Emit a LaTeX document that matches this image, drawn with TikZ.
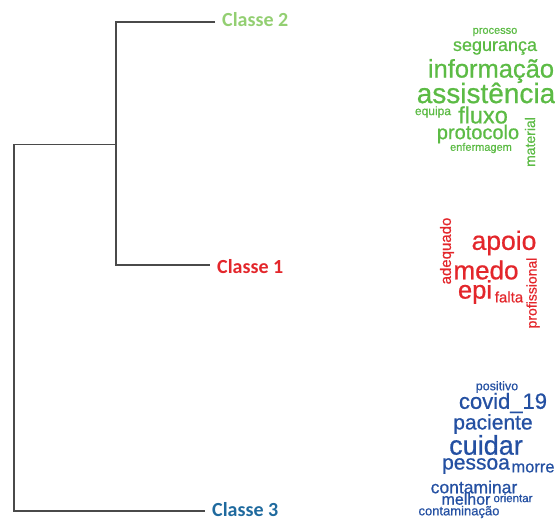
\documentclass[tikz,border=0pt]{standalone}
\usepackage{fontspec}
\setmainfont{Liberation Sans}
\newfontfamily\cloudfont[FakeBold=0.7]{Liberation Sans}
\newfontfamily\classefont{Carlito}
\definecolor{treegray}{HTML}{4A4A4A}
\definecolor{wgreen}{HTML}{5CBB45}
\definecolor{lgreen}{HTML}{93CF72}
\definecolor{wred}{HTML}{E3262B}
\definecolor{wblue}{HTML}{2450A2}
\definecolor{lblue}{HTML}{1F6A9E}
\newcommand{\wsize}[1]{\cloudfont\fontsize{#1}{#1}\selectfont}
\tikzset{
  tree/.style={draw=treegray, line width=1.2pt},
  classe/.style={font=\classefont\bfseries\fontsize{20}{20}\selectfont, anchor=west, inner sep=0pt},
  word/.style={inner sep=0pt},
}
\begin{document}
\begin{tikzpicture}[x=1pt,y=-1pt]
    \useasboundingbox (0,0) rectangle (555,520);

    % dendrogram
    \coordinate (t2) at (116,22);
    \coordinate (e2) at (215,22);
    \coordinate (t1) at (116,265);
    \coordinate (e1) at (210,265);
    \coordinate (m)  at (116,144.5);
    \coordinate (r)  at (14,144.5);
    \coordinate (t3) at (14,511);
    \coordinate (e3) at (205,511);
        \draw[tree] (e2) -- (t2) -- (t1) -- (e1);
        \draw[tree] (m) -- (r) -- (t3) -- (e3);

    \node[classe, text=lgreen] (classe2) at (222,19.5) {Classe 2};
    \node[classe, text=wred]   (classe1) at (217,267)  {Classe 1};
    \node[classe, text=lblue]  (classe3) at (212,509.5){Classe 3};

    % classe 2
    \begin{scope}[every node/.style={word, text=wgreen}]
        \node[font=\wsize{11}] (processo)     at (495,32)  {processo};
        \node[font=\wsize{18}] (seguranca)    at (495,48)  {segurança};
        \node[font=\wsize{25.5}] (informacao) at (491,71)  {informação};
        \node[font=\wsize{28}] (assistencia)  at (486,93)  {assistência};
        \node[font=\wsize{12}] (equipa)       at (433,112) {equipa};
        \node[font=\wsize{23.5}] (fluxo)      at (483,115) {fluxo};
        \node[font=\wsize{20}] (protocolo)    at (478,134) {protocolo};
        \node[font=\wsize{11}] (enfermagem)   at (481,148) {enfermagem};
        \node[font=\wsize{14}, rotate=90] (material) at (530,142) {material};
    \end{scope}

    % classe 1
    \begin{scope}[every node/.style={word, text=wred}]
        \node[font=\wsize{15}, rotate=90] (adequado) at (447,251) {adequado};
        \node[font=\wsize{26.5}] (apoio)  at (504,243) {apoio};
        \node[font=\wsize{26}]   (medo)   at (486,270) {medo};
        \node[font=\wsize{25.5}] (epi)    at (475,292) {epi};
        \node[font=\wsize{15}]   (falta)  at (509,297) {falta};
        \node[font=\wsize{14}, rotate=90] (profissional) at (533,293) {profissional};
    \end{scope}

    % classe 3
    \begin{scope}[every node/.style={word, text=wblue}]
        \node[font=\wsize{12.5}] (positivo)    at (497,387) {positivo};
        \node[font=\wsize{22}]   (covid)       at (503,403) {covid\_19};
        \node[font=\wsize{21}]   (paciente)    at (493,424) {paciente};
        \node[font=\wsize{27}]   (cuidar)      at (486,445) {cuidar};
        \node[font=\wsize{21}]   (pessoa)      at (476,466) {pessoa};
        \node[font=\wsize{16.5}] (morre)       at (533,468) {morre};
        \node[font=\wsize{17.5}] (contaminar)  at (474,487) {contaminar};
        \node[font=\wsize{16}]   (melhor)      at (466,499) {melhor};
        \node[font=\wsize{11.5}] (orientar)    at (513,498) {orientar};
        \node[font=\wsize{13}]   (contaminacao) at (459,512) {contaminação};
    \end{scope}
\end{tikzpicture}
\end{document}
